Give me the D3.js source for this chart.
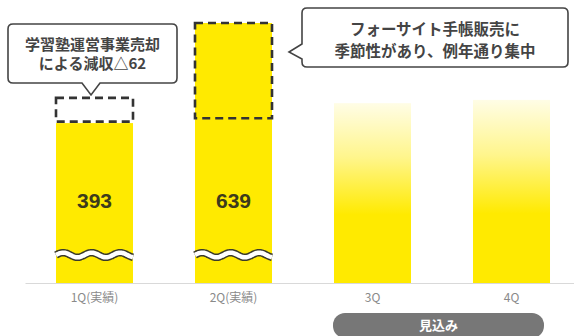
<!DOCTYPE html>
<html>
<head>
<meta charset="utf-8">
<script src="https://cdn.jsdelivr.net/npm/d3@7"></script>
<style>
  body { margin: 0; background: #fff; }
  svg { display: block; }
</style>
</head>
<body>
<main></main>
<script>
// data
let quarters = ["1Q(実績)", "2Q(実績)", "3Q", "4Q"]
let sales = [393, 639, 442, 450]
let isForecast = [false, false, true, true]
let showValue = [true, true, false, false]
let lostSales = 62          // 学習塾運営事業売却による減収
let seasonalPart = 234      // 2Q 手帳販売の季節性分 (estimated)
let forecastLabel = "見込み"
let note1 = ["学習塾運営事業売却", "による減収△62"]
let note2 = ["フォーサイト手帳販売に", "季節性があり、例年通り集中"]

let width = 574, height = 336
let yellow = "#ffea00"
let cjk = "'Noto Sans CJK JP', 'Noto Sans', sans-serif"

let svg = d3.select('main')
    .append('svg')
    .attr('width', width)
    .attr('height', height)

//scales
let x = d3.scaleBand()
    .domain(quarters)
    .range([25, 581])
    .paddingInner(0.446)
    .paddingOuter(0.223)
let y = d3.scaleLinear()
    .domain([0, 639])
    .range([283, 23])

//gradient for forecast bars
let grad = svg.append('defs').append('linearGradient')
    .attr('id', 'fade')
    .attr('x1', 0).attr('y1', 0).attr('x2', 0).attr('y2', 1)
grad.append('stop').attr('offset', 0).attr('stop-color', yellow).attr('stop-opacity', 0.1)
grad.append('stop').attr('offset', 0.3).attr('stop-color', yellow).attr('stop-opacity', 0.45)
grad.append('stop').attr('offset', 0.62).attr('stop-color', yellow).attr('stop-opacity', 1)
grad.append('stop').attr('offset', 1).attr('stop-color', yellow).attr('stop-opacity', 1)

//bars
svg.selectAll('rect.bar')
    .data(quarters)
    .join('rect')
    .attr('class', 'bar')
    .attr('x', d => x(d))
    .attr('y', (d, i) => y(sales[i]))
    .attr('width', x.bandwidth())
    .attr('height', (d, i) => y(0) - y(sales[i]))
    .style('fill', (d, i) => isForecast[i] ? 'url(#fade)' : yellow)

//axis
let axis = svg.append('g')
    .attr('transform', `translate(0,${y(0)})`)
    .call(d3.axisBottom(x).tickSize(0).tickSizeOuter(0).tickPadding(10))
axis.select('.domain').style('stroke', '#d9d9d9').style('stroke-width', 1)
axis.selectAll('text')
    .style('font-family', cjk)
    .style('font-size', '12px')
    .style('fill', '#8a8a8a')

//value labels
svg.selectAll('text.val')
    .data(quarters.filter((d, i) => showValue[i]))
    .join('text')
    .attr('class', 'val')
    .attr('x', d => x(d) + x.bandwidth() / 2)
    .attr('y', 208)
    .attr('text-anchor', 'middle')
    .style('font-family', "'Liberation Sans', Arial, sans-serif")
    .style('font-weight', 'bold')
    .style('font-size', '21px')
    .style('fill', '#3d3b1c')
    .text(d => sales[quarters.indexOf(d)])

//wavy break marks on the actual bars
function wave(x0, x1, yc) {
  let pts = []
  for (let t = 0; t <= 60; t++) {
    let px = x0 + (x1 - x0) * t / 60
    pts.push([px, yc - 2.4 * Math.sin((px - x0) / (x1 - x0) * Math.PI * 2 * 2.7)])
  }
  return d3.line().curve(d3.curveBasis)(pts)
}
quarters.filter((d, i) => !isForecast[i]).forEach(d => {
  let x0 = x(d), x1 = x(d) + x.bandwidth()
  svg.append('path')
      .attr('d', wave(x0, x1, 255))
      .style('fill', 'none')
      .style('stroke', '#3a3a2a')
      .style('stroke-width', 7.5)
  svg.append('path')
      .attr('d', wave(x0, x1, 255))
      .style('fill', 'none')
      .style('stroke', '#fff')
      .style('stroke-width', 4.5)
})

//dashed boxes
let dash = (g) => g.style('fill', 'none')
    .style('stroke', '#333')
    .style('stroke-width', 2.6)
    .style('stroke-dasharray', '8,5')
let b1 = quarters[0], b2 = quarters[1]
svg.append('rect')
    .attr('x', x(b1))
    .attr('y', y(sales[0] + lostSales))
    .attr('width', x.bandwidth())
    .attr('height', y(sales[0]) - y(sales[0] + lostSales) - 1.5)
    .call(dash)
svg.append('rect')
    .attr('x', x(b2))
    .attr('y', y(sales[1]))
    .attr('width', x.bandwidth())
    .attr('height', y(sales[1] - seasonalPart) - y(sales[1]))
    .call(dash)

//callout 1 (pointer down)
let c1 = svg.append('g')
c1.append('path')
    .attr('d', 'M13,24 H172 Q177,24 177,29 V78 Q177,83 172,83 H100 L91,95 L82,83 H13 Q8,83 8,78 V29 Q8,24 13,24 Z')
    .style('fill', '#fff')
    .style('stroke', '#444')
    .style('stroke-width', 1.6)
c1.selectAll('text')
    .data(note1)
    .join('text')
    .attr('x', 92.5)
    .attr('y', (d, i) => 50 + i * 19)
    .attr('text-anchor', 'middle')
    .style('font-family', cjk)
    .style('font-weight', 'bold')
    .style('font-size', '15px')
    .style('fill', '#444')
    .text(d => d)

//callout 2 (pointer left)
let c2 = svg.append('g')
c2.append('path')
    .attr('d', 'M307,8 H563 Q568,8 568,13 V62 Q568,67 563,67 H307 Q302,67 302,62 V59 L289,52 L302,44 V13 Q302,8 307,8 Z')
    .style('fill', '#fff')
    .style('stroke', '#444')
    .style('stroke-width', 1.6)
c2.selectAll('text')
    .data(note2)
    .join('text')
    .attr('x', 435)
    .attr('y', (d, i) => 35 + i * 22)
    .attr('text-anchor', 'middle')
    .style('font-family', cjk)
    .style('font-weight', 'bold')
    .style('font-size', '15.5px')
    .style('fill', '#444')
    .text(d => d)

//forecast pill
let fq = quarters.filter((d, i) => isForecast[i])
let px0 = x(fq[0]) - 1, px1 = x(fq[fq.length - 1]) + x.bandwidth() - 6
svg.append('rect')
    .attr('x', px0)
    .attr('y', 313)
    .attr('width', px1 - px0)
    .attr('height', 25)
    .attr('rx', 12)
    .style('fill', '#777')
svg.append('text')
    .attr('x', (px0 + px1) / 2)
    .attr('y', 330)
    .attr('text-anchor', 'middle')
    .style('font-family', cjk)
    .style('font-weight', 'bold')
    .style('font-size', '13px')
    .style('fill', '#fff')
    .text(forecastLabel)
</script>
</body>
</html>
